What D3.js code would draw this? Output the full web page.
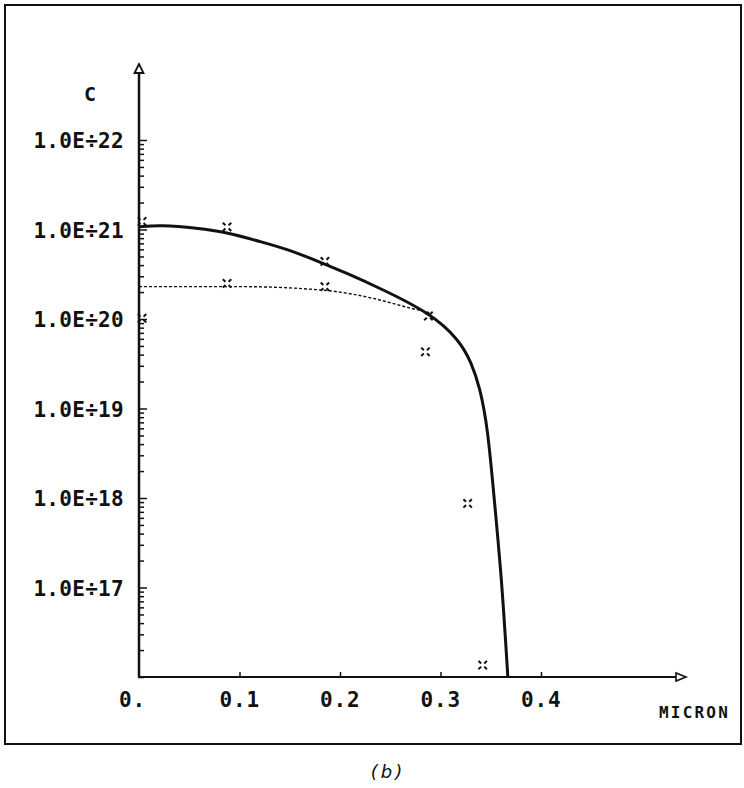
<!DOCTYPE html>
<html><head><meta charset="utf-8">
<script src="https://cdn.jsdelivr.net/npm/d3@7"></script>
<style>
html,body{margin:0;padding:0;background:#fff;}
svg{display:block;}
.lbl{font-family:"DejaVu Sans Mono",monospace;font-weight:bold;fill:#111;}
</style></head>
<body>
<svg id="c" width="744" height="788"></svg>
<script>
// ---- data ----
const yTickValues = [1e17, 1e18, 1e19, 1e20, 1e21, 1e22];
const yTickLabels = ["1.0E÷17", "1.0E÷18", "1.0E÷19", "1.0E÷20", "1.0E÷21", "1.0E÷22"];
const xTickValues = [0, 0.1, 0.2, 0.3, 0.4];
const xTickLabels = ["0.", "0.1", "0.2", "0.3", "0.4"];
// solid curve (depth in micron, concentration)
const solidX = [0, 0.021, 0.058, 0.0876, 0.123, 0.150, 0.183, 0.208, 0.24, 0.2896, 0.319, 0.331, 0.339, 0.347, 0.354, 0.361, 0.367];
const solidC = [1.07e21, 1.12e21, 1.04e21, 9.3e20, 7.2e20, 5.9e20, 4.2e20, 3.2e20, 2.2e20, 1.17e20, 5.8e19, 3.2e19, 1.74e19, 6.2e18, 8.3e17, 1.2e17, 1e16];
// dotted curve
const dotX = [0, 0.1, 0.183, 0.233, 0.267, 0.2896];
const dotC = [2.3e20, 2.3e20, 2.1e20, 1.7e20, 1.35e20, 1.17e20];
// measured points
const ptX = [0.003, 0.0876, 0.003, 0.0876, 0.185, 0.185, 0.288, 0.285, 0.327, 0.342];
const ptC = [1.23e21, 1.07e21, 1.02e20, 2.5e20, 4.4e20, 2.3e20, 1.08e20, 4.3e19, 8.7e17, 1.36e16];

// ---- layout ----
const svg = d3.select("#c");
const x0 = 139, yBase = 677;
const x = d3.scaleLinear().domain([0, 0.1]).range([x0, x0 + 100.5]);
const y = d3.scaleLog().domain([1e16, 1e22]).range([yBase, 140]);
const ink = "#111";

// frame
svg.append("rect").attr("x", 5).attr("y", 5).attr("width", 736).attr("height", 739)
  .attr("fill", "none").attr("stroke", ink).attr("stroke-width", 2);

// y axis line + arrow
const yTop = 64, xEnd = 686;
svg.append("line").attr("x1", x0).attr("x2", x0).attr("y1", yBase).attr("y2", yTop + 8)
  .attr("stroke", ink).attr("stroke-width", 2.5);
svg.append("path").attr("d", `M${x0},${yTop} L${x0 - 4.5},${yTop + 9} L${x0 + 4.5},${yTop + 9} Z`)
  .attr("fill", "#fff").attr("stroke", ink).attr("stroke-width", 1.8);
// x axis line + arrow
svg.append("line").attr("x1", x0).attr("x2", xEnd - 9).attr("y1", yBase).attr("y2", yBase)
  .attr("stroke", ink).attr("stroke-width", 2);
svg.append("path").attr("d", `M${xEnd},${yBase} L${xEnd - 10},${yBase - 4} L${xEnd - 10},${yBase + 4} Z`)
  .attr("fill", "#fff").attr("stroke", ink).attr("stroke-width", 1.6);

// y ticks (log minor + major)
const allTicks = y.ticks();
const yAxis = d3.axisRight(y).tickValues(allTicks).tickFormat("")
  .tickSizeInner(0).tickSizeOuter(0);
const gy = svg.append("g").attr("transform", `translate(${x0},0)`).call(yAxis);
gy.select(".domain").remove();
gy.selectAll(".tick line").attr("x1", -1).attr("x2", d => (yTickValues.some(v => Math.abs(v - d) / v < 1e-6) ? 8 : 5))
  .attr("stroke", ink).attr("stroke-width", 1.5);

// y labels
svg.selectAll("text.ylab").data(yTickValues).enter().append("text")
  .attr("class", "lbl ylab").attr("x", 124).attr("y", d => y(d) + 8)
  .attr("text-anchor", "end").attr("font-size", 21).attr("letter-spacing", 0.3)
  .text((d, i) => yTickLabels[i]);

svg.append("text").attr("class", "lbl").attr("x", 90).attr("y", 101)
  .attr("text-anchor", "middle").attr("font-size", 20).text("C");

// x ticks
const xAxis = d3.axisTop(x).tickValues(xTickValues.slice(1)).tickFormat("").tickSizeInner(5).tickSizeOuter(0);
const gx = svg.append("g").attr("transform", `translate(0,${yBase})`).call(xAxis);
gx.select(".domain").remove();
gx.selectAll(".tick line").attr("stroke", ink).attr("stroke-width", 1.5);

svg.selectAll("text.xlab").data(xTickValues).enter().append("text")
  .attr("class", "lbl xlab").attr("x", d => x(d) - 20).attr("y", 707)
  .attr("text-anchor", "start").attr("font-size", 21).attr("letter-spacing", 0.8)
  .text((d, i) => xTickLabels[i]);

svg.append("text").attr("class", "lbl").attr("x", 730).attr("y", 718)
  .attr("text-anchor", "end").attr("font-size", 16).attr("letter-spacing", 2.2)
  .text("MICRON");

// curves
const lineSmooth = d3.line().x(d => x(d[0])).y(d => y(d[1])).curve(d3.curveBasis);
const lineMono = d3.line().x(d => x(d[0])).y(d => y(d[1])).curve(d3.curveMonotoneX);
svg.append("path").datum(dotX.map((v, i) => [v, dotC[i]])).attr("d", lineMono)
  .attr("fill", "none").attr("stroke", ink).attr("stroke-width", 1.4).attr("stroke-dasharray", "3,2");
svg.append("path").datum(solidX.map((v, i) => [v, solidC[i]])).attr("d", lineSmooth)
  .attr("fill", "none").attr("stroke", ink).attr("stroke-width", 3);

// markers
const mk = svg.append("g");
ptX.forEach((v, i) => {
  const cx = x(v), cy = y(ptC[i]);
  [[1, 1], [1, -1], [-1, 1], [-1, -1]].forEach(([sx, sy]) => {
    mk.append("line").attr("x1", cx + sx * 1.6).attr("y1", cy + sy * 1.6)
      .attr("x2", cx + sx * 4.2).attr("y2", cy + sy * 4.2)
      .attr("stroke", ink).attr("stroke-width", 2);
  });
});

// caption
svg.append("text").attr("x", 388).attr("y", 778).attr("text-anchor", "middle")
  .attr("font-family", "DejaVu Sans").attr("font-style", "italic").attr("font-size", 18)
  .attr("letter-spacing", 3).attr("fill", ink).text("(b)");
</script>
</body></html>
